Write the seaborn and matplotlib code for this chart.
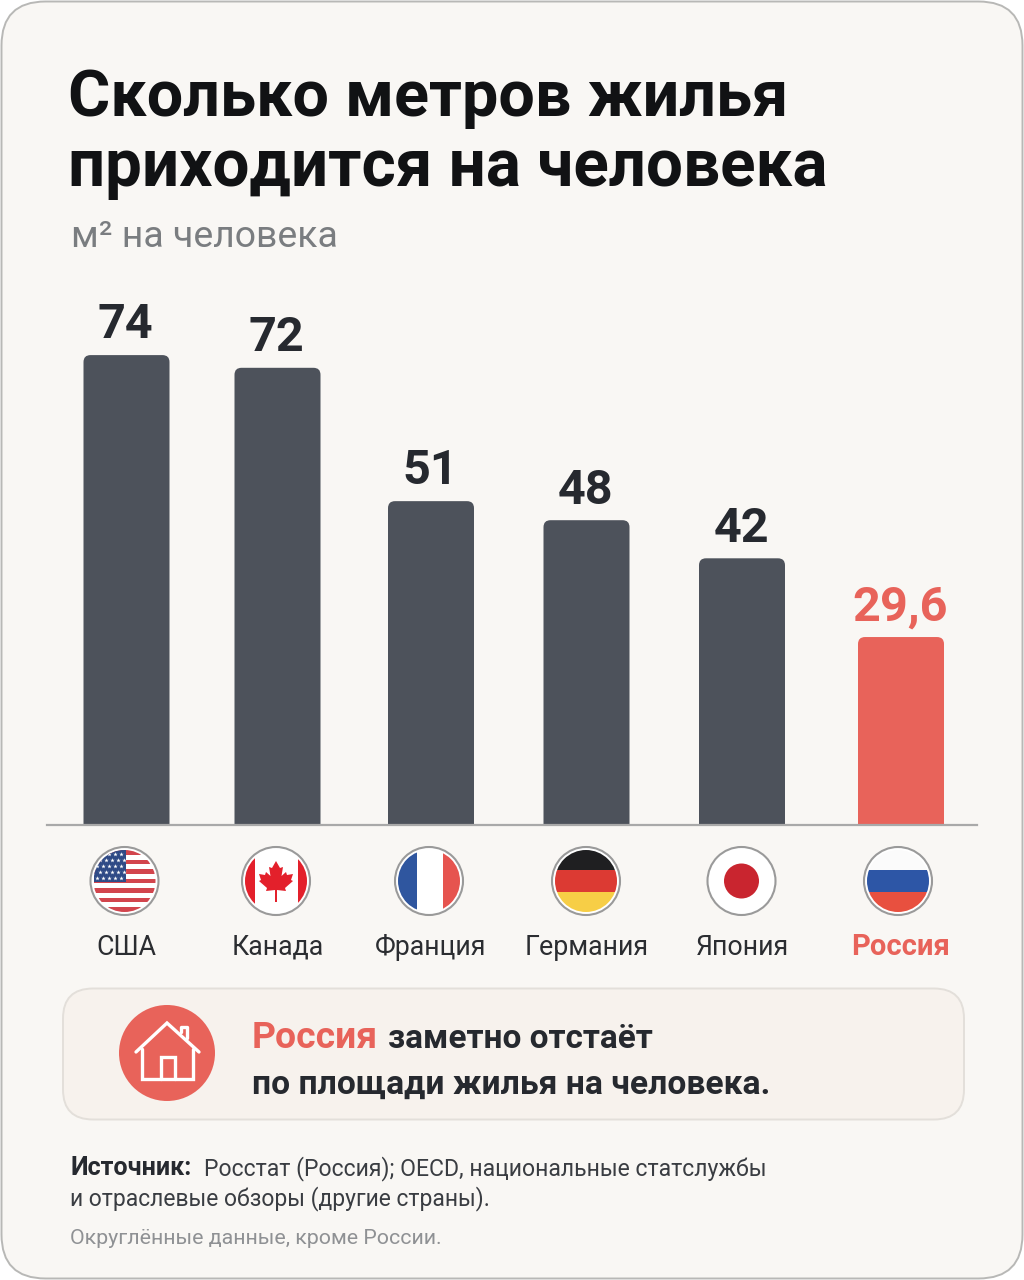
import matplotlib
matplotlib.use("Agg")
import matplotlib.pyplot as plt
from matplotlib.patches import FancyBboxPatch, Circle, Rectangle, Polygon
import seaborn as sns
import pandas as pd

countries = ["США", "Канада", "Франция", "Германия", "Япония", "Россия"]
values = [74, 72, 51, 48, 42, 29.6]
value_labels = ["74", "72", "51", "48", "42", "29,6"]
slots = [126.5, 277.5, 431, 586.5, 742, 901]

DARK = "#4d525b"
RED = "#e8635a"
INK = "#111214"
LABEL = "#26292f"
CARD = "#f9f7f4"
PX_PER_UNIT = 6.35
W, H = 1024, 1280

sns.set_theme(style="white")
plt.rcParams["font.family"] = ["Roboto", "DejaVu Sans"]

fig = plt.figure(figsize=(W / 100, H / 100), dpi=100, facecolor="white")


def px_axes(z):
    a = fig.add_axes([0, 0, 1, 1], zorder=z)
    a.set_xlim(0, W)
    a.set_ylim(H, 0)
    a.axis("off")
    a.patch.set_alpha(0)
    return a


bg = px_axes(0)
fg = px_axes(3)

# card
bg.add_patch(FancyBboxPatch((1.5, 1.5), W - 3, H - 3, boxstyle="round,pad=0,rounding_size=44",
                            fc=CARD, ec="#b8b8b6", lw=1.4))

# chart axes: x in px of the canvas, y in values
LEFT, RIGHT, BASE, TOP = 47, 977, 825, 285
ax = fig.add_axes([LEFT / W, 1 - BASE / H, (RIGHT - LEFT) / W, (BASE - TOP) / H], zorder=1)
ax.patch.set_alpha(0)
df = pd.DataFrame({"slot": slots, "value": values, "country": countries})
palette = {c: (RED if c == "Россия" else DARK) for c in countries}
sns.barplot(data=df, x="slot", y="value", hue="country", palette=palette, dodge=False,
            native_scale=True, width=86 / 151, legend=False, saturation=1, ax=ax)
ax.set_xlim(LEFT, RIGHT)
ax.set_ylim(0, (BASE - TOP) / PX_PER_UNIT)
ax.set_xlabel("")
ax.set_ylabel("")
ax.set_yticks([])
sns.despine(ax=ax, left=True, right=True, top=True)
ax.spines["bottom"].set_color("#a9a9a9")
ax.spines["bottom"].set_linewidth(1.6)

# rounded tops
bars = [p for p in ax.patches]
for p in bars:
    x0, w, h, col = p.get_x(), p.get_width(), p.get_height(), p.get_facecolor()
    p.set_visible(False)
    ax.add_patch(FancyBboxPatch((x0, -3), w, h + 3,
                                boxstyle="round,pad=0,rounding_size=7",
                                mutation_aspect=1 / PX_PER_UNIT,
                                fc=col, ec="none", zorder=2))

# value labels
for x, v, lab, c in zip(slots, values, value_labels, countries):
    ax.annotate(lab, (x, v), xytext=(-0.5, 12), textcoords="offset points", ha="center", va="baseline",
                fontsize=35, fontweight="bold", color=RED if c == "Россия" else LABEL, clip_on=False)

# country labels as tick labels
ax.set_xticks(slots)
ax.set_xticklabels(countries, fontsize=19.3)
ax.tick_params(axis="x", length=0, pad=93.5)
for t, c in zip(ax.get_xticklabels(), countries):
    t.set_verticalalignment("baseline")
    t.set_color(RED if c == "Россия" else "#2b2d31")
    if c == "Россия":
        t.set_fontweight("bold")
        t.set_fontsize(21)

# title block
bg.text(68, 116, "Сколько метров жилья", fontsize=46.5, fontweight="bold", color=INK, va="baseline")
bg.text(68, 186, "приходится на человека", fontsize=47.2, fontweight="bold", color=INK, va="baseline")
bg.text(71, 247, "м² на человека", fontsize=26.9, color="#7a7d80", va="baseline")


# flags
def flag_base(cx, cy, r=34):
    fg.add_patch(Circle((cx, cy), r, fc="white", ec="#9a9a9a", lw=1.5, zorder=2))
    return Circle((cx, cy), r - 3, transform=fg.transData, fc="none", ec="none")


def clipped(patch, clip):
    fg.add_patch(patch)
    patch.set_clip_path(clip)
    patch.set_zorder(3)
    return patch


def hstripes(cx, cy, colors, fracs=None, r=31):
    clip = flag_base(cx, cy)
    n = len(colors)
    fracs = fracs or [1 / n] * n
    y = cy - r
    for col, f in zip(colors, fracs):
        clipped(Rectangle((cx - r, y), 2 * r, 2 * r * f, fc=col, ec="none"), clip)
        y += 2 * r * f


# USA
cx, cy = 124.5, 881
clip = flag_base(cx, cy)
r = 31
rows = 13
for i in range(rows):
    clipped(Rectangle((cx - r, cy - r + i * 2 * r / rows), 2 * r, 2 * r / rows,
                      fc="#d2454d" if i % 2 == 0 else "white", ec="none"), clip)
clipped(Rectangle((cx - r, cy - r), r + 1, r + 1, fc="#2f4a86", ec="none"), clip)
sx, sy = [], []
for j in range(5):
    for i in range(5):
        sx.append(cx - 28 + i * 6.2 + (3.1 if j % 2 else 0))
        sy.append(cy - 27 + j * 6)
st = fg.scatter(sx, sy, s=11, c="white", marker="*", linewidths=0, zorder=4)
st.set_clip_path(clip)

# Canada
cx, cy = 276, 881
clip = flag_base(cx, cy)
clipped(Rectangle((cx - 31, cy - 31), 10, 62, fc="#e3202b", ec="none"), clip)
clipped(Rectangle((cx + 22, cy - 31), 10, 62, fc="#e3202b", ec="none"), clip)
leaf = [(0, -20), (4, -13), (7, -14), (5.5, -5), (10, -9), (11, -6), (17, -7), (15, -1), (17, 0),
        (9, 7), (10, 10), (1, 9), (1, 21), (-1, 21), (-1, 9), (-10, 10), (-9, 7), (-17, 0), (-15, -1),
        (-17, -7), (-11, -6), (-10, -9), (-5.5, -5), (-7, -14), (-4, -13)]
fg.add_patch(Polygon([(cx + a, cy + b) for a, b in leaf], closed=True, fc="#e3202b", ec="none", zorder=4))

# France
cx, cy = 429, 881
clip = flag_base(cx, cy)
clipped(Rectangle((cx - 31, cy - 31), 19, 62, fc="#2f569f", ec="none"), clip)
clipped(Rectangle((cx + 14, cy - 31), 17, 62, fc="#e6544f", ec="none"), clip)

# Germany
hstripes(586, 881, ["#1f1f21", "#dc3a33", "#f7ce46"], [0.33, 0.34, 0.33])

# Japan
flag_base(741.5, 881)
fg.add_patch(Circle((741.5, 881), 17.5, fc="#c9252f", ec="none", zorder=4))

# Russia
hstripes(898, 881, ["#fbfbfb", "#2d56a6", "#e8503f"], [0.33, 0.34, 0.33])

# callout
bg.add_patch(FancyBboxPatch((63, 988.5), 901, 131, boxstyle="round,pad=0,rounding_size=30",
                            fc="#f7f2ed", ec="#e3dfda", lw=1.4))
bg.add_patch(Circle((167, 1053), 48, fc=RED, ec="none"))
house = dict(color="white", lw=2.4, solid_joinstyle="miter", solid_capstyle="round", zorder=3)
bg.plot([136, 167, 199], [1052, 1023, 1052], **house)
bg.plot([142, 142, 193, 193], [1049, 1079, 1079, 1049], **house)
bg.plot([161, 161, 175, 175], [1079, 1057, 1057, 1079], **house)
bg.plot([181, 181, 187, 187], [1032, 1027, 1027, 1038], color="white", lw=2.4, zorder=3)

bg.text(252, 1048, "Россия", fontsize=26.8, fontweight="bold", color=RED, va="baseline")
bg.text(388, 1048, "заметно отстаёт", fontsize=24, fontweight="bold", color=LABEL, va="baseline")
bg.text(252, 1094, "по площади жилья на человека.", fontsize=24.2, fontweight="bold", color=LABEL, va="baseline")

# footer
bg.text(70, 1175, "Источник:", fontsize=18.1, fontweight="bold", color=LABEL, va="baseline")
bg.text(204, 1175, "Росстат (Россия); OECD, национальные статслужбы", fontsize=16.6, color="#3a3d42", va="baseline")
bg.text(70, 1205, "и отраслевые обзоры (другие страны).", fontsize=16.5, color="#3a3d42", va="baseline")
bg.text(70, 1244, "Округлённые данные, кроме России.", fontsize=15.4, color="#8f9194", va="baseline")

fig.savefig("out.png", dpi=100, facecolor="white")
